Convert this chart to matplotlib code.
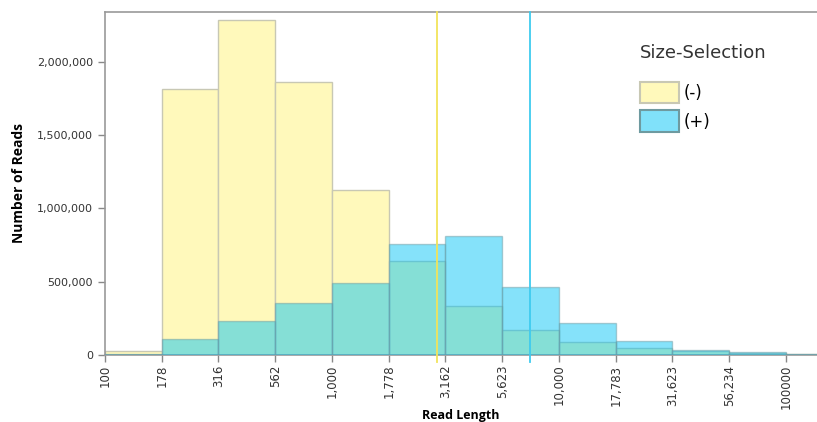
import numpy as np
import matplotlib.pyplot as plt
from matplotlib.patches import Patch

# bin edges (quarter-decade log bins) and tick labels
bin_edges = [100, 178, 316, 562, 1000, 1778, 3162, 5623, 10000, 17783, 31623, 56234, 100000, 177828]
tick_labels = ['100', '178', '316', '562', '1,000', '1,778', '3,162', '5,623',
               '10,000', '17,783', '31,623', '56,234', '100000']

# counts per bin
minus_counts = [25000, 1815000, 2287000, 1860000, 1122000, 644000, 332000, 169000, 87000, 46000, 25000, 12000, 5000]
plus_counts = [8000, 107000, 232000, 355000, 489000, 760000, 812000, 462000, 216000, 94000, 36000, 18000, 7000]

# marker lines (N50-like values)
minus_line = 2890
plus_line = 7450

yellow = '#FFF9BB'
blue = '#00C3F5'

fig = plt.figure(figsize=(8.17, 4.22), dpi=100)
ax = fig.add_axes([0.1285, 0.159, 0.8715, 0.813])

edges = np.array(bin_edges, dtype=float)
widths = np.diff(edges)
ax.bar(edges[:-1], minus_counts, width=widths, align='edge', color=yellow,
       edgecolor='#C8C8B4', linewidth=1.0, zorder=2)
ax.bar(edges[:-1], plus_counts, width=widths, align='edge', color=blue, alpha=0.48,
       edgecolor='#6E9AA0', linewidth=1.0, zorder=3)

ax.axvline(minus_line, ymin=-0.02, ymax=1, color='#F2E45A', linewidth=1.3, clip_on=False, zorder=4)
ax.axvline(plus_line, ymin=-0.02, ymax=1, color='#3FCBEF', linewidth=1.3, clip_on=False, zorder=4)

ax.set_xscale('log')
ax.set_xlim(100, 100000 * 10 ** (31 / 227))
ax.set_ylim(0, 2341000)
ax.set_xticks(bin_edges[:-1])
ax.set_xticklabels(tick_labels, rotation=90, fontsize=8.5, color='#333333')
ax.xaxis.set_minor_locator(plt.NullLocator())
ax.set_yticks([0, 500000, 1000000, 1500000, 2000000])
ax.set_yticklabels(['0', '500,000', '1,000,000', '1,500,000', '2,000,000'], fontsize=8, color='#333333')
ax.tick_params(axis='both', length=5, color='#888888', width=1)
ax.tick_params(axis='x', pad=2)

for s in ['left', 'bottom', 'top']:
    ax.spines[s].set_color('#999999')
    ax.spines[s].set_linewidth(1.2)
ax.spines['right'].set_visible(False)

ax.set_xlabel('Read Length', fontsize=9, fontweight='bold', family='Open Sans', labelpad=0)
ax.set_ylabel('Number of Reads', fontsize=10, fontweight='bold', family='Open Sans', labelpad=8)

handles = [Patch(facecolor=yellow, edgecolor='#C8C8B4', linewidth=1.5),
           Patch(facecolor='#80E1FA', edgecolor='#6E9AA0', linewidth=1.5)]
leg = ax.legend(handles, ['(-)', '(+)'], title='Size-Selection', loc='upper left',
                bbox_to_anchor=(0.735, 0.94), frameon=False, fontsize=12,
                title_fontsize=13, handlelength=2.35, handleheight=1.65,
                handletextpad=0.25, labelspacing=0.4, borderpad=0.2)
leg._legend_box.align = 'left'
leg._legend_box.sep = 14
leg.get_title().set_color('#333333')

fig.savefig('out.png', dpi=100)
